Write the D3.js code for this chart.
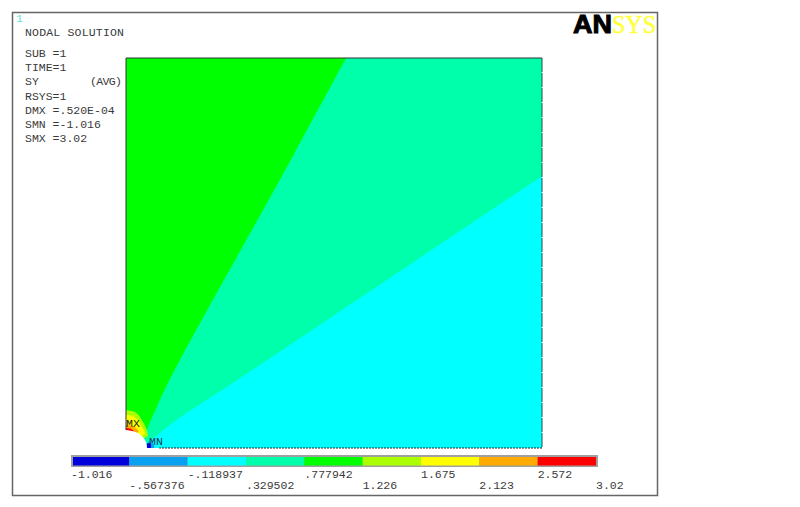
<!DOCTYPE html>
<html><head><meta charset="utf-8">
<script src="https://cdn.jsdelivr.net/npm/d3@7/dist/d3.min.js"></script>
<style>html,body{margin:0;background:#fff}svg{display:block}text{font-family:"Liberation Mono","DejaVu Sans Mono",monospace;fill:#3a3a3a;font-size:11.5px}</style>
</head><body><div id="c"></div>
<script>
// Contour levels
const levels=[-1.016,-0.567376,-0.118937,0.329502,0.777942,1.226,1.675,2.123,2.572,3.02];
const levelLabels=["-1.016","-.567376","-.118937",".329502",".777942","1.226","1.675","2.123","2.572","3.02"];
const bandColors=["#0000dc","#0aa0f0","#00ffff","#00ffaa","#00ff00","#aaff00","#ffff00","#ffaa00","#ff0000"];
const infoLines=["SUB =1","TIME=1","SY     (AVG)","RSYS=1","DMX =.520E-04","SMN =-1.016","SMX =3.02"];
// Model-space contour edges (unit plate, hole at lower-left)
const greenEdge=[[0.529,1],[0.404,0.754],[0.276,0.508],[0.182,0.328],[0.13,0.226],[0.089,0.141],[0.05,0.046]];
const cyanEdge=[[1,0.697],[0.49,0.333],[0.25,0.162],[0.118,0.069],[0.058,0.018]];
const holeArc=[[0.0505,0],[0.047,0.018],[0.036,0.033],[0.02,0.042],[0,0.046]];
const limeArc=[[0,0.097],[0.022,0.092],[0.038,0.072],[0.05,0.046],[0.053,0.031]];
const yellowArc=[[0,0.085],[0.019,0.08],[0.034,0.062],[0.046,0.038]];
const orangeArc=[[0,0.059],[0.017,0.056],[0.031,0.044]];
const redArc=[[0,0.051],[0.012,0.049],[0.022,0.041]];
const blueZone=[[0.05,0],[0.068,0],[0.066,0.012],[0.056,0.018],[0.05,0.01]];
const deepZone=[[0.05,0],[0.06,0],[0.06,0.012],[0.05,0.012]];

const W=800,H=507;
const svg=d3.select("#c").append("svg").attr("width",W).attr("height",H);
const x=d3.scaleLinear().domain([0,1]).range([126,542]);
const y=d3.scaleLinear().domain([0,1]).range([448,58]);
const line=d3.line().x(d=>x(d[0])).y(d=>y(d[1]));
const curve=d3.line().x(d=>x(d[0])).y(d=>y(d[1])).curve(d3.curveCatmullRom);
const region=(edge,rest)=>curve(edge)+"L"+line(rest).slice(1)+"Z";

svg.append("rect").attr("x",12.5).attr("y",12.5).attr("width",645).attr("height",483).attr("fill","#fff").attr("stroke","#666").attr("stroke-width",1.5);

svg.append("path").attr("d",line([[0,0],[1,0],[1,1],[0,1]])+"Z").attr("fill",bandColors[2]);
svg.append("path").attr("d",region(cyanEdge,[[0,0],[0,1],[1,1]])).attr("fill",bandColors[3]);
svg.append("path").attr("d",region(greenEdge,[[0,0],[0,1]])).attr("fill",bandColors[4]);
[[limeArc,bandColors[5]],[yellowArc,bandColors[6]],[orangeArc,bandColors[7]],[redArc,bandColors[8]]].forEach(([a,c])=>{
  svg.append("path").attr("d",region(a,[[0,0]])).attr("fill",c);
});
svg.append("path").attr("d",line(blueZone)+"Z").attr("fill",bandColors[1]);
svg.append("path").attr("d",line(deepZone)+"Z").attr("fill",bandColors[0]);
svg.append("path").attr("d",region(holeArc,[[0,0]])).attr("fill","#fff");
// outline
svg.append("path").attr("d",line([[0,0.046],[0,1],[1,1]])).attr("fill","none").attr("stroke","#333").attr("stroke-width",1);
svg.append("path").attr("d",line([[1,1],[1,0]])).attr("fill","none").attr("stroke","#2a4a4a").attr("stroke-width",1).attr("stroke-dasharray","14 1");
svg.append("path").attr("d",line([[1,0],[0.08,0]])).attr("fill","none").attr("stroke","#222").attr("stroke-width",1).attr("stroke-dasharray","2 1");

// Info text
svg.append("text").attr("x",16).attr("y",22).style("fill","#66e0e0").text("1");
svg.append("text").attr("x",25).attr("y",36).attr("textLength",99).text("NODAL SOLUTION");
const infoY=d3.scaleLinear().domain([0,6]).range([57,142]);
infoLines.forEach((t,i)=>{
  const parts=t.split(/ {2,}/);
  svg.append("text").attr("x",25).attr("y",infoY(i)).text(parts[0]);
  if(parts[1]) svg.append("text").attr("x",90).attr("y",infoY(i)).attr("textLength",32).text(parts[1]);
});
svg.append("text").attr("x",126).attr("y",427).style("font-size","11.5px").style("fill","#222").attr("textLength",14).text("MX");
svg.append("text").attr("x",149).attr("y",445).style("font-size","11.5px").style("fill","#143c50").attr("textLength",14).text("MN");

// Legend
const lx=d3.scaleLinear().domain([0,9]).range([71,596]);
svg.append("rect").attr("x",71).attr("y",455).attr("width",527).attr("height",12).attr("fill","#a0a0a0");
bandColors.forEach((c,i)=>{
  const x0=i==0?lx(0)+2:lx(i);
  svg.append("rect").attr("x",x0).attr("y",457).attr("width",lx(i+1)-x0).attr("height",8.5).attr("fill",c);
});
levelLabels.forEach((t,i)=>{
  svg.append("text").attr("x",lx(i)).attr("y",i%2?489:477.5).text(t);
});

// Logo
svg.append("text").attr("x",573).attr("y",33).style("font-family","'Liberation Sans',Arial,sans-serif").style("font-weight","bold").style("font-size","26px").style("fill","#000").style("stroke","#000").style("stroke-width","1").attr("textLength",39).attr("lengthAdjust","spacingAndGlyphs").text("AN");
svg.append("text").attr("x",612).attr("y",33).style("font-family","'Liberation Serif',serif").style("font-size","26px").style("fill","#ffff44").style("stroke","#ffff44").style("stroke-width",".6").attr("textLength",44).attr("lengthAdjust","spacingAndGlyphs").text("SYS");
</script></body></html>
